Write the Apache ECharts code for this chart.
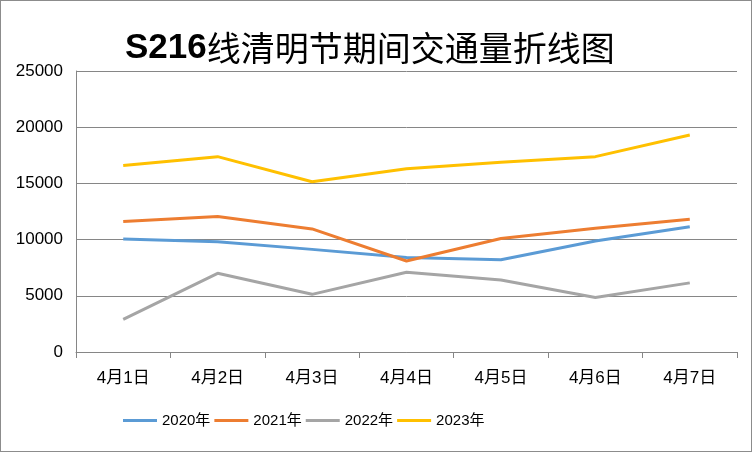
<!DOCTYPE html>
<html><head><meta charset="utf-8">
<script src="https://cdn.jsdelivr.net/npm/echarts@6/dist/echarts.min.js"></script>
<style>html,body{margin:0;padding:0;background:#fff}#c{width:752px;height:452px;box-sizing:border-box;border:1px solid #8c8c8c}</style>
</head><body><div id="c"></div>
<script>
const categories = ['4月1日','4月2日','4月3日','4月4日','4月5日','4月6日','4月7日'];
const yTicks = [0,5000,10000,15000,20000,25000];
const s2020 = [10050, 9800, 9130, 8400, 8200, 9880, 11150];
const s2021 = [11600, 12050, 10950, 8100, 10100, 11000, 11800];
const s2022 = [2900, 7000, 5130, 7100, 6400, 4850, 6150];
const s2023 = [16600, 17380, 15150, 16300, 16880, 17380, 19300];
const names = ['2020年','2021年','2022年','2023年'];
const colors = ['#5B9BD5','#ED7D31','#A5A5A5','#FFC000'];
const seriesData = [s2020, s2021, s2022, s2023];

const font = "'Liberation Sans','Noto Sans CJK SC',sans-serif";
const chart = echarts.init(document.getElementById('c'));
chart.setOption({
  animation:false,
  title:{
    text:'{a|S216}{b|线清明节期间交通量折线图}',
    left:119, top:25,
    textStyle:{rich:{
      a:{fontSize:35,fontWeight:'bold',fontFamily:font,color:'#000'},
      b:{fontSize:34,fontWeight:'normal',fontFamily:"'Noto Sans CJK SC',sans-serif",color:'#000'}
    }}
  },
  grid:{left:75,right:14,top:70,bottom:99},
  legend:{
    top:407, left:117, itemWidth:34, itemHeight:3, itemGap:4,
    icon:'rect',
    textStyle:{fontSize:15,fontFamily:font,color:'#000'},
    data:names
  },
  xAxis:{
    type:'category', data:categories, boundaryGap:true,
    axisLine:{lineStyle:{color:'#868686',width:1}},
    axisTick:{show:true,length:6,lineStyle:{color:'#868686'}},
    axisLabel:{fontSize:17,fontFamily:font,color:'#000',margin:18}
  },
  yAxis:{
    type:'value', min:yTicks[0], max:yTicks[yTicks.length-1], interval:5000,
    axisLine:{show:true,lineStyle:{color:'#868686'}},
    axisTick:{show:false},
    splitLine:{lineStyle:{color:'#868686',width:1}},
    axisLabel:{fontSize:17,fontFamily:font,color:'#000',margin:13,formatter:v=>String(v)}
  },
  series:seriesData.map((d,i)=>({
    name:names[i], type:'line', data:d, symbol:'none',
    lineStyle:{width:3,color:colors[i]}, itemStyle:{color:colors[i]}
  }))
});
</script></body></html>
